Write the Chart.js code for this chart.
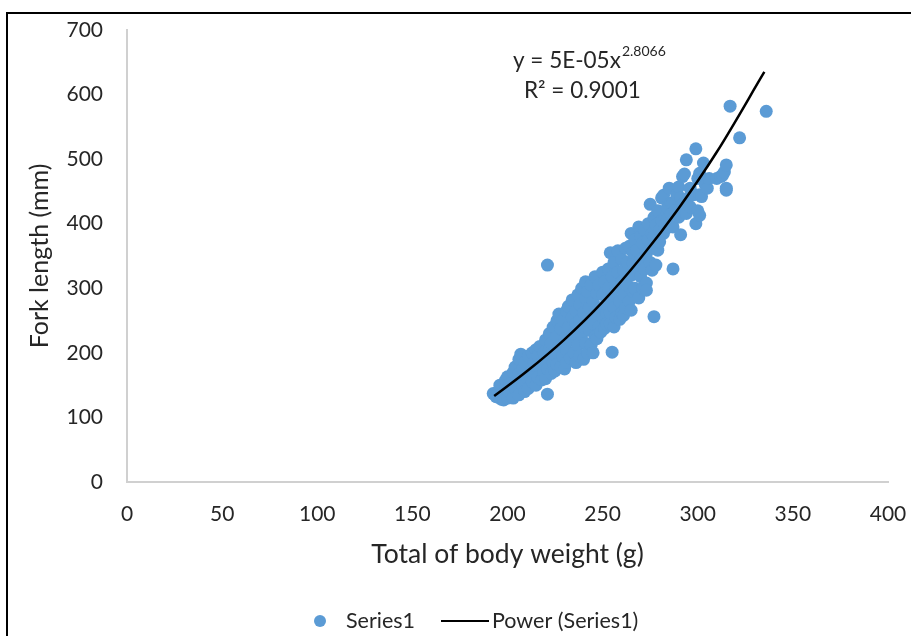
<!DOCTYPE html>
<html>
<head>
<meta charset="utf-8">
<script src="https://cdn.jsdelivr.net/npm/chart.js@4/dist/chart.umd.min.js"></script>
<style>
	html, body { margin: 0; padding: 0; background: #fff; }
	#wrap { position: relative; width: 911px; height: 636px; overflow: hidden; }
	#frame { position: absolute; left: 6px; top: 12px; width: 920px; height: 640px;
		border-left: 2px solid #000; border-top: 2px solid #000; pointer-events: none; }
	canvas { position: absolute; left: 0; top: 0; }
</style>
</head>
<body>
<div id="wrap">
	<canvas id="fish" width="911" height="636"></canvas>
	<div id="frame"></div>
</div>
<script>
// [body weight (g), fork length (mm)]
const fishSamples = [
	[192.5, 137], [194, 132], [195, 140], [196, 130], [196, 150], [197, 128],
	[198, 127], [199, 145], [199, 158], [200, 130], [200, 163], [201, 140], [201, 152],
	[203, 130], [203, 170], [204, 145], [204, 178], [205, 158], [206, 135], [206, 190], [206, 168],
	[207, 198], [208, 150], [208, 175], [209, 140], [209, 185], [210, 162], [211, 145], [211, 195],
	[212, 170], [213, 200], [213, 155], [214, 185], [215, 150], [215, 205], [216, 175], [216, 195], [216, 162],
	[217, 210], [218, 158], [218, 185], [219, 200], [219, 170], [220, 220], [220, 160], [221, 190], [221, 336], [221, 136], [221, 175],
	[222, 230], [222, 205], [223, 168], [223, 215], [224, 185], [224, 240], [225, 198], [225, 172], [226, 225], [226, 250], [226, 182],
	[227, 210], [227, 260], [228, 178], [228, 238], [229, 195], [229, 250], [230, 222], [230, 175], [231, 265], [231, 205], [231, 185],
	[232, 240], [232, 272], [233, 192], [233, 220], [234, 255], [234, 282], [235, 200], [235, 230], [236, 185], [236, 265], [236, 245],
	[237, 290], [237, 212], [238, 195], [238, 250], [238, 275], [239, 228], [239, 300], [240, 190], [240, 262], [240, 240], [241, 310], [241, 215], [241, 285],
	[242, 200], [242, 255], [242, 295], [243, 235], [243, 270], [244, 305], [244, 212], [245, 245], [245, 280], [245, 200], [246, 318], [246, 225], [246, 262],
	[247, 222], [247, 292], [248, 240], [248, 305], [249, 232], [249, 270], [250, 325], [250, 255], [250, 290], [251, 238], [251, 310], [252, 262],
	[252, 275], [252, 245], [253, 330], [253, 300], [254, 245], [254, 262], [254, 355], [255, 285], [255, 201], [255, 318], [256, 240], [256, 340], [256, 270],
	[257, 300], [257, 255], [258, 358], [258, 325], [259, 252], [259, 280], [260, 345], [260, 262], [260, 310], [261, 328], [261, 290], [261, 258],
	[262, 362], [262, 270], [263, 305], [263, 340], [264, 280], [264, 365], [265, 266], [265, 320], [265, 385], [266, 295], [266, 339], [266, 355],
	[267, 375], [267, 300], [268, 330], [268, 359], [269, 285], [269, 395], [270, 318], [270, 380], [270, 345], [271, 300], [271, 370],
	[272, 390], [272, 330], [273, 354], [273, 308], [273, 297], [274, 375], [274, 400], [275, 430], [275, 340], [276, 362], [276, 385], [276, 328],
	[277, 256], [277, 380], [277, 410], [278, 398], [278, 336], [279, 359], [279, 420], [280, 390], [280, 372], [281, 440], [281, 405],
	[282, 385], [282, 444], [283, 410], [284, 406], [284, 425], [285, 455], [285, 395], [286, 432], [286, 415],
	[287, 330], [287, 395], [287, 432], [288, 420], [289, 445], [290, 457], [290, 410], [291, 383], [291, 440],
	[292, 473], [292, 430], [293, 477], [293, 418], [294, 416], [294, 499], [295, 440], [296, 426], [296, 455],
	[298, 445], [299, 516], [299, 400], [300, 420], [300, 470], [301, 413], [301, 478], [301, 445],
	[302, 442], [303, 494], [304, 460], [305, 455], [306, 470],
	[310, 470], [312, 473], [313, 475], [314, 480], [315, 491], [315, 452], [315, 455],
	[317, 582], [322, 533], [336, 574],
];

// power trendline, read at a few weights along the drawn curve
const trendWeight = [193, 210, 230, 250, 270, 290, 310, 335];
const trendLength = [133, 171, 221, 279, 347, 424, 511, 635];

const equationText = 'y = 5E-05x';
const equationPower = '2.8066';
const rSquaredText = 'R² = 0.9001';

const FONT = 'Lato, "Open Sans", sans-serif';
const TEXT = '#262626';
const BLUE = '#5B9BD5';

const overlay = {
	id: 'overlay',
	afterDraw(chart) {
		const ctx = chart.ctx;
		ctx.save();
		ctx.fillStyle = TEXT;
		ctx.textBaseline = 'alphabetic';
		ctx.textAlign = 'left';

		// trendline label
		ctx.font = '22.5px ' + FONT;
		ctx.fillText(equationText, 513, 68);
		const w = ctx.measureText(equationText).width;
		ctx.font = '14px ' + FONT;
		ctx.fillText(equationPower, 513 + w + 1, 56);
		ctx.font = '22.5px ' + FONT;
		ctx.fillText(rSquaredText, 524, 98);

		// legend
		ctx.font = '21.5px ' + FONT;
		ctx.textBaseline = 'middle';
		ctx.fillStyle = BLUE;
		ctx.beginPath();
		ctx.arc(320, 621, 6, 0, Math.PI * 2);
		ctx.fill();
		ctx.fillStyle = TEXT;
		ctx.fillText(chart.data.datasets[1].label, 346, 621);
		ctx.strokeStyle = '#000';
		ctx.lineWidth = 2;
		ctx.beginPath();
		ctx.moveTo(441, 621);
		ctx.lineTo(489, 621);
		ctx.stroke();
		ctx.fillText(chart.data.datasets[0].label, 492, 621);
		ctx.restore();
	},
};

const ctx = document.getElementById('fish').getContext('2d');
new Chart(ctx, {
	type: 'scatter',
	data: {
		datasets: [
			{
				type: 'line',
				label: 'Power (Series1)',
				data: trendWeight.map((w, i) => ({ x: w, y: trendLength[i] })),
				borderColor: '#000',
				borderWidth: 2.5,
				pointRadius: 0,
				tension: 0.4,
				cubicInterpolationMode: 'monotone',
				fill: false,
				order: 1,
			},
			{
				label: 'Series1',
				data: fishSamples.map(p => ({ x: p[0], y: p[1] })),
				backgroundColor: BLUE,
				borderWidth: 0,
				pointRadius: 6.5,
				order: 2,
			},
		],
	},
	options: {
		responsive: false,
		animation: false,
		layout: { padding: { left: 8, top: 30, right: 23, bottom: 0 } },
		plugins: {
			legend: { display: false },
			tooltip: { enabled: false },
		},
		scales: {
			x: {
				type: 'linear',
				min: 0,
				max: 400,
				afterFit: s => { s.height = 154; },
				ticks: { stepSize: 50, padding: 0, color: TEXT, font: { family: FONT, size: 21 } },
				grid: { display: false, drawTicks: true, tickLength: 20 },
				border: { display: true, color: '#d0d0d0', width: 2 },
				title: { display: true, text: 'Total of body weight (g)', color: TEXT,
					font: { family: FONT, size: 26.5 }, padding: { top: 0, bottom: 66 } },
			},
			y: {
				type: 'linear',
				min: 0,
				max: 700,
				afterFit: s => { s.width = 119; },
				ticks: { stepSize: 100, padding: 0, color: TEXT, font: { family: FONT, size: 21 } },
				grid: { display: false, drawTicks: true, tickLength: 24 },
				border: { display: true, color: '#d0d0d0', width: 2 },
				title: { display: true, text: 'Fork length (mm)', color: TEXT,
					font: { family: FONT, size: 25 }, padding: { top: 17, bottom: 0 } },
			},
		},
	},
	plugins: [overlay],
});
</script>
</body>
</html>
